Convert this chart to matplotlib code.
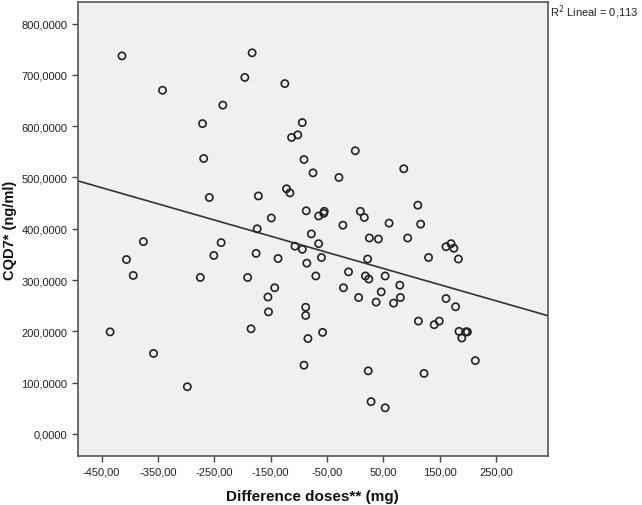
import numpy as np
import matplotlib
matplotlib.use("Agg")
import matplotlib.pyplot as plt
from matplotlib.ticker import FuncFormatter

plt.rcParams['font.family'] = ['Liberation Sans', 'DejaVu Sans']

# difference in doses (mg) and CQD7 (ng/ml)
dose_diff = [
    -414, -342, -183, -196, -125, -235, -271, -94, -102, -113,
    -269, -91, -75, -259, -172, -122, -116, -149, -87, -65,
    -174, -78, -376, -238, -107, -94, -65, 0, -29, -55,
    -56, 9, 16, -22, -176, 86, 111, 60, 116, 25,
    41, 93, 161, 170, 175, -137, -86, -60, -191, -70,
    -12, -21, -143, -155, -154, -88, -88, -185, -84, -58,
    -91, -406, -394, -251, -275, -435, -358, -298, 22, 130,
    183, 18, 24, 53, 79, 46, 6, 37, 68, 80,
    161, 178, 112, 140, 149, 184, 196, 199, 189, 213,
    23, 122, 28, 53,
]
cqd7 = [
    737, 670, 743, 695, 683, 641, 605, 607, 583, 578,
    537, 535, 509, 461, 464, 478, 470, 421, 435, 425,
    400, 390, 375, 373, 366, 360, 371, 552, 500, 434,
    430, 434, 422, 407, 352, 517, 446, 411, 409, 382,
    380, 382, 365, 371, 362, 342, 333, 344, 305, 308,
    316, 285, 285, 267, 238, 247, 231, 205, 186, 198,
    134, 340, 309, 348, 305, 199, 157, 92, 341, 344,
    341, 308, 302, 308, 290, 277, 266, 257, 255, 266,
    264, 248, 220, 213, 220, 200, 199, 199, 187, 143,
    123, 118, 63, 51,
]
x_ticks = [-450, -350, -250, -150, -50, 50, 150, 250]
y_ticks = [0, 100, 200, 300, 400, 500, 600, 700, 800]
r2_text = "R$^2$ Lineal = 0,113"

x = np.array(dose_diff, dtype=float)
y = np.array(cqd7, dtype=float)
slope, intercept = np.polyfit(x, y, 1)

fig = plt.figure(figsize=(6.42, 5.06), dpi=100)
ax = fig.add_axes([0.1215, 0.0968, 0.7321, 0.8972])
ax.set_facecolor('#f0f0f0')

xlim = (-492, 342)
ylim = (-43, 842)
ax.set_xlim(xlim)
ax.set_ylim(ylim)

ax.scatter(x, y, s=27, facecolors='none', edgecolors='#222222', linewidths=1.2, zorder=3)
xl = np.array(xlim, dtype=float)
ax.plot(xl, intercept + slope * xl, color='#333333', lw=1.2, zorder=2)

ax.set_xticks(x_ticks)
ax.set_yticks(y_ticks)
ax.xaxis.set_major_formatter(FuncFormatter(lambda v, p: ("%.2f" % v).replace('.', ',')))
ax.yaxis.set_major_formatter(FuncFormatter(lambda v, p: ("%.4f" % v).replace('.', ',')))
ax.tick_params(direction='out', length=4, width=1, color='#444444', labelsize=8, labelcolor='#222222')

for s in ax.spines.values():
    s.set_color('#555555')
    s.set_linewidth(1.2)

fig.text(0.487, 0.018, "Difference doses** (mg)", fontsize=11, fontweight='bold',
         ha='center', va='center', color='#111111')
fig.text(0.016, 0.545, "CQD7* (ng/ml)", fontsize=10.5, fontweight='bold', rotation=90,
         ha='center', va='center', color='#111111')

fig.text(0.857, 0.976, r2_text, fontsize=8, ha='left', va='center', color='#222222')

fig.savefig("out.png", dpi=100)
